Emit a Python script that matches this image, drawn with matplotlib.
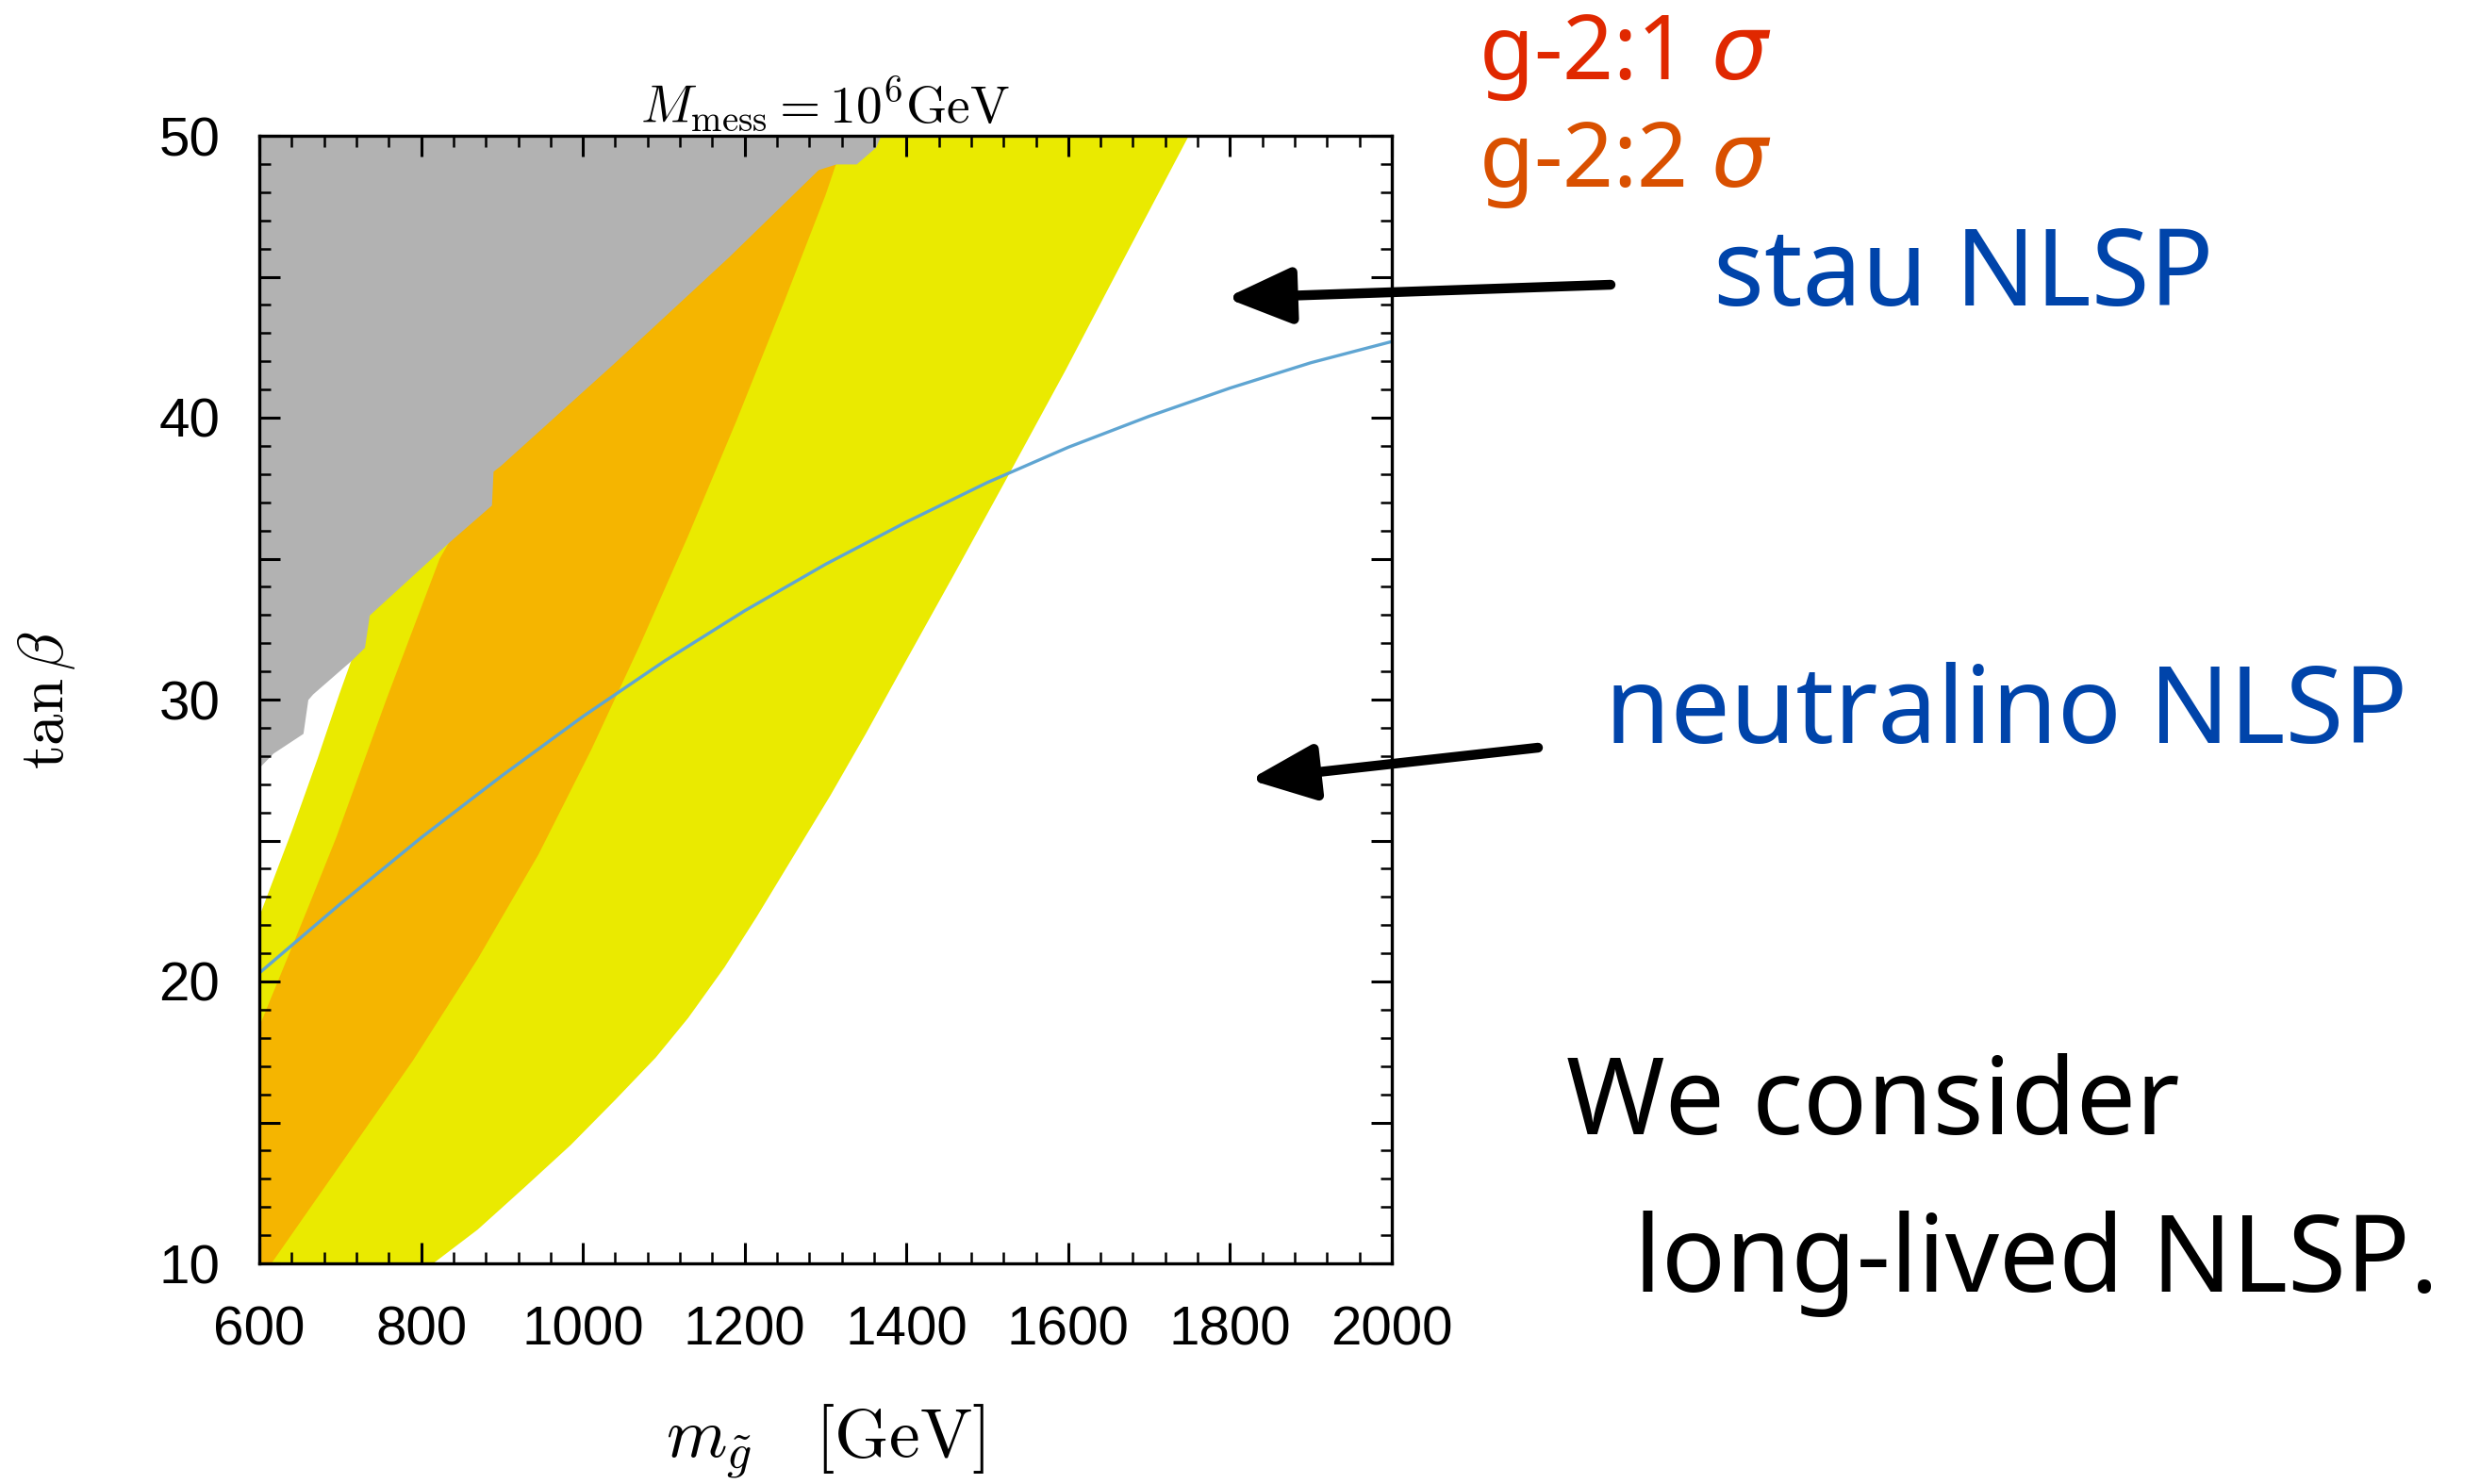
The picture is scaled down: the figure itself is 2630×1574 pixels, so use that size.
import matplotlib
matplotlib.use("Agg")
import matplotlib.pyplot as plt
from matplotlib.ticker import MultipleLocator, FuncFormatter

# excluded region (upper left), lower boundary
gray_x = [600, 617, 654, 660, 666, 714, 730, 736, 835, 887, 889, 898, 1037, 1180, 1291, 1313, 1338, 1362, 1368]
gray_y = [27.6, 28.1, 28.8, 30.0, 30.2, 31.4, 31.85, 33.0, 35.6, 36.9, 38.1, 38.3, 41.9, 45.7, 48.8, 49.0, 49.0, 49.6, 50.0]

# g-2 2 sigma band (yellow): left edge and outer right edge
yel_left_x = [600, 641, 672, 699, 714.6]
yel_left_y = [22.3, 25.4, 27.9, 30.2, 31.45]
yel_right_x = [815, 870, 928, 985, 1040, 1090, 1130, 1175, 1215, 1270, 1306, 1350, 1398, 1460, 1525, 1597, 1670, 1749]
yel_right_y = [10, 11.2, 12.7, 14.2, 15.8, 17.3, 18.7, 20.5, 22.3, 24.9, 26.6, 28.8, 31.3, 34.5, 37.9, 41.7, 45.7, 50]

# g-2 1 sigma band (orange)
org_left_x = [600, 660, 695, 757, 823, 835]
org_left_y = [18.4, 22.6, 25.1, 30.0, 35.0, 35.6]
org_right_x = [615, 705, 790, 870, 945, 1010, 1070, 1130, 1190, 1250, 1300, 1313]
org_right_y = [10, 13.7, 17.2, 20.8, 24.5, 28.2, 31.9, 35.8, 39.9, 44.2, 47.9, 49.0]

# stau / neutralino NLSP border
nlsp_x = [600, 700, 800, 900, 1000, 1100, 1200, 1300, 1400, 1500, 1600, 1700, 1800, 1900, 2000]
nlsp_y = [20.3, 22.75, 25.1, 27.3, 29.4, 31.35, 33.15, 34.8, 36.3, 37.7, 38.95, 40.05, 41.05, 41.95, 42.7]

XMIN, XMAX, YMIN, YMAX = 600, 2000, 10, 50

plt.rcParams['font.family'] = ['Liberation Sans', 'DejaVu Sans']
plt.rcParams['mathtext.fontset'] = 'cm'

W, H = 2630, 1574
fig = plt.figure(figsize=(W / 100, H / 100), dpi=100)
ax = fig.add_axes([275 / W, 1 - 1340 / H, 1201 / W, 1196 / H])

# yellow band
xs = [XMIN] + yel_left_x + [yel_left_x[-1]] + yel_right_x[::-1]
ys = [YMIN] + yel_left_y + [YMAX] + yel_right_y[::-1]
ax.fill(xs, ys, color='#eaea00', lw=0)

# orange band
xs = [XMIN] + org_left_x + [org_left_x[-1], org_right_x[-1]] + org_right_x[::-1]
ys = [YMIN] + org_left_y + [YMAX, YMAX] + org_right_y[::-1]
ax.fill(xs, ys, color='#f5b500', lw=0)

# excluded
ax.fill_between(gray_x, gray_y, YMAX, color='#b2b2b2', lw=0)

ax.plot(nlsp_x, nlsp_y, color='#5fa5d2', lw=2.4)

ax.set_xlim(XMIN, XMAX)
ax.set_ylim(YMIN, YMAX)
ax.xaxis.set_major_locator(MultipleLocator(200))
ax.xaxis.set_minor_locator(MultipleLocator(40))
ax.yaxis.set_major_locator(MultipleLocator(5))
ax.yaxis.set_minor_locator(MultipleLocator(1))
ax.yaxis.set_major_formatter(FuncFormatter(lambda v, _: f"{v:.0f}" if v % 10 == 0 else ""))
ax.tick_params(which='both', direction='in', top=True, right=True, labelsize=42)
ax.tick_params(axis='x', which='major', length=16, width=2.2, pad=32)
ax.tick_params(axis='y', which='major', length=16, width=2.2, pad=30)
ax.tick_params(which='minor', length=8.5, width=1.8)
for s in ax.spines.values():
    s.set_linewidth(2.4)

ax.set_title(r"$M_{\rm mess} = 10^6{\rm GeV}$", fontsize=40, pad=10)
ax.set_xlabel(r"$m_{\tilde{g}}\quad[{\rm GeV}]$", fontsize=53, labelpad=36)
ax.set_ylabel(r"$\tan\beta$", fontsize=48, labelpad=62)

# annotations on the right
font = ['Noto Sans', 'DejaVu Sans']

def ftext(x, y, s, size, color):
    fig.text(x / W, 1 - y / H, s, fontsize=size, color=color, family=font,
             va='baseline', ha='left', math_fontfamily='dejavusans')

ftext(1568, 84, r"g-2:1 $\sigma$", 68, '#e02800')
ftext(1568, 198, r"g-2:2 $\sigma$", 68, '#d95000')
ftext(1817, 324, "stau NLSP", 81, '#0044aa')
ftext(1702, 788, "neutralino NLSP", 81, '#0044aa')
ftext(1661, 1203, "We consider", 81, 'black')
ftext(1733, 1370, "long-lived NLSP.", 81, 'black')

arrow = dict(arrowstyle='-|>,head_length=0.42,head_width=0.18', lw=7.5, color='black',
             shrinkA=0, shrinkB=0, mutation_scale=100)
ax.annotate('', xy=(1300 / W, 1 - 316 / H), xytext=(1708 / W, 1 - 302 / H),
            xycoords='figure fraction', textcoords='figure fraction', arrowprops=arrow)
ax.annotate('', xy=(1325 / W, 1 - 827 / H), xytext=(1631 / W, 1 - 793 / H),
            xycoords='figure fraction', textcoords='figure fraction', arrowprops=arrow)

fig.savefig('out.png', dpi=100)
